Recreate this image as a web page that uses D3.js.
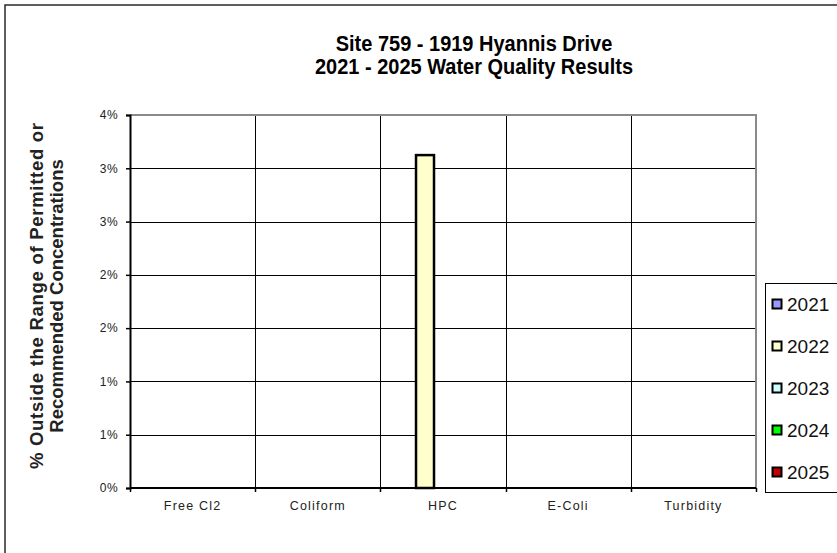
<!DOCTYPE html>
<html>
<head>
<meta charset="utf-8">
<script src="https://cdn.jsdelivr.net/npm/d3@7"></script>
<style>
  html, body { margin: 0; padding: 0; background: #fff; }
  svg { display: block; }
</style>
</head>
<body>
<svg id="chart" width="837" height="553"></svg>
<script>
// Water quality exceedance by parameter and year
const categories = ["Free Cl2", "Coliform", "HPC", "E-Coli", "Turbidity"];
const years = ["2021", "2022", "2023", "2024", "2025"];
const yearColors = ["#9999FF", "#FFFFCC", "#CCFFFF", "#00FF00", "#C00000"];
// fraction of samples outside range, one array per year (same order as categories)
const values2021 = [0, 0, 0, 0, 0];
const values2022 = [0, 0, 0.0357, 0, 0];
const values2023 = [0, 0, 0, 0, 0];
const values2024 = [0, 0, 0, 0, 0];
const values2025 = [0, 0, 0, 0, 0];
const yMax = 0.04;
const tickLabels = ["0%", "1%", "1%", "2%", "2%", "3%", "3%", "4%"];

const series = [values2021, values2022, values2023, values2024, values2025];

const svg = d3.select("#chart");
const W = 837, H = 553;
const plot = { left: 130, right: 756, top: 115, bottom: 488 };
const sans = "'Liberation Sans', Arial, sans-serif";

// outer frame
svg.append("path")
  .attr("d", `M5,${H} L5,5 L${W},5`)
  .attr("fill", "none").attr("stroke", "#2a2a2a").attr("stroke-width", 1.5);

// title (condensed bold)
const title = svg.append("g").attr("transform", "translate(474,0) scale(0.93,1)")
  .append("text")
  .attr("text-anchor", "middle")
  .attr("font-family", sans)
  .attr("font-weight", "bold").attr("font-size", 21.5).attr("fill", "#000");
title.append("tspan").attr("x", 0).attr("y", 51).text("Site 759 - 1919 Hyannis Drive");
title.append("tspan").attr("x", 0).attr("y", 74).text("2021 - 2025 Water Quality Results");

// scales
const x = d3.scaleBand().domain(categories).range([plot.left, plot.right]).padding(0);
const xInner = d3.scaleBand().domain(years).range([0, x.bandwidth()]).paddingInner(0).paddingOuter(0.98);
const y = d3.scaleLinear().domain([0, yMax]).range([plot.bottom, plot.top]);
const yTicks = d3.range(tickLabels.length).map(i => i * yMax / (tickLabels.length - 1));

// horizontal gridlines
svg.append("g").selectAll("line").data(yTicks.slice(1, -1)).join("line")
  .attr("x1", plot.left).attr("x2", plot.right)
  .attr("y1", d => Math.round(y(d)) + 0.5).attr("y2", d => Math.round(y(d)) + 0.5)
  .attr("stroke", "#000").attr("stroke-width", 1);

// vertical gridlines at category boundaries
const bounds = categories.slice(1).map(c => x(c));
svg.append("g").selectAll("line").data(bounds).join("line")
  .attr("x1", d => Math.round(d) + 0.5).attr("x2", d => Math.round(d) + 0.5)
  .attr("y1", plot.top).attr("y2", plot.bottom)
  .attr("stroke", "#000").attr("stroke-width", 1);

// plot area top/right border
svg.append("path")
  .attr("d", `M${plot.left},${plot.top} L${plot.right},${plot.top} L${plot.right},${plot.bottom}`)
  .attr("fill", "none").attr("stroke", "#8a8a8a").attr("stroke-width", 2);

// bars
const bars = [];
series.forEach((vals, si) => vals.forEach((v, ci) => {
  if (v > 0) bars.push({ cat: categories[ci], year: years[si], v, color: yearColors[si] });
}));
svg.append("g").selectAll("rect").data(bars).join("rect")
  .attr("x", d => x(d.cat) + xInner(d.year))
  .attr("width", xInner.bandwidth())
  .attr("y", d => y(d.v))
  .attr("height", d => y(0) - y(d.v))
  .attr("fill", d => d.color).attr("stroke", "#000").attr("stroke-width", 2.5);

// y axis
const yAxis = d3.axisLeft(y).tickValues(yTicks)
  .tickFormat((d, i) => tickLabels[i]).tickSize(4).tickPadding(8);
const gy = svg.append("g").attr("transform", `translate(${plot.left},0)`).call(yAxis);
gy.select(".domain").attr("stroke", "#000").attr("stroke-width", 2);
gy.selectAll(".tick line").attr("stroke", "#000").attr("stroke-width", 1.5);
gy.selectAll("text").attr("font-family", sans)
  .attr("font-size", 12).attr("letter-spacing", 0.4).attr("fill", "#222");

// x axis
const gx = svg.append("g").attr("transform", `translate(0,${plot.bottom})`);
gx.append("line").attr("x1", plot.left).attr("x2", plot.right)
  .attr("y1", 0).attr("y2", 0).attr("stroke", "#000").attr("stroke-width", 2);
gx.selectAll("line.tk").data([plot.left, ...bounds, plot.right]).join("line").attr("class", "tk")
  .attr("x1", d => Math.round(d) + 0.5).attr("x2", d => Math.round(d) + 0.5)
  .attr("y1", 0).attr("y2", 4).attr("stroke", "#000").attr("stroke-width", 1.5);
gx.selectAll("text").data(categories).join("text")
  .attr("x", d => x(d) + x.bandwidth() / 2).attr("y", 21.5)
  .attr("text-anchor", "middle")
  .attr("font-family", sans)
  .attr("font-size", 12.5).attr("letter-spacing", 1.2).attr("fill", "#222")
  .text(d => d);

// y axis title
const yt = svg.append("text")
  .attr("transform", "translate(0,296) rotate(-90)")
  .attr("text-anchor", "middle")
  .attr("font-family", sans)
  .attr("font-weight", "bold").attr("font-size", 18.5).attr("fill", "#222");
yt.append("tspan").attr("x", 0).attr("y", 43)
  .attr("textLength", 346).attr("lengthAdjust", "spacing")
  .text("% Outside the Range of Permitted or");
yt.append("tspan").attr("x", 0).attr("y", 63)
  .text("Recommended Concentrations");

// legend
const lg = svg.append("g");
lg.append("rect").attr("x", 765.5).attr("y", 283.5).attr("width", 80).attr("height", 209)
  .attr("fill", "#fff").attr("stroke", "#000").attr("stroke-width", 1);
const items = lg.selectAll("g.item").data(years).join("g").attr("class", "item")
  .attr("transform", (d, i) => `translate(772,${304 + i * 42})`);
items.append("rect").attr("x", 0.5).attr("y", -4.5).attr("width", 9).attr("height", 9)
  .attr("fill", (d, i) => yearColors[i]).attr("stroke", "#000").attr("stroke-width", 2);
items.append("text").attr("x", 15).attr("y", 7)
  .attr("font-family", sans)
  .attr("font-size", 19).attr("fill", "#111").text(d => d);
</script>
</body>
</html>
